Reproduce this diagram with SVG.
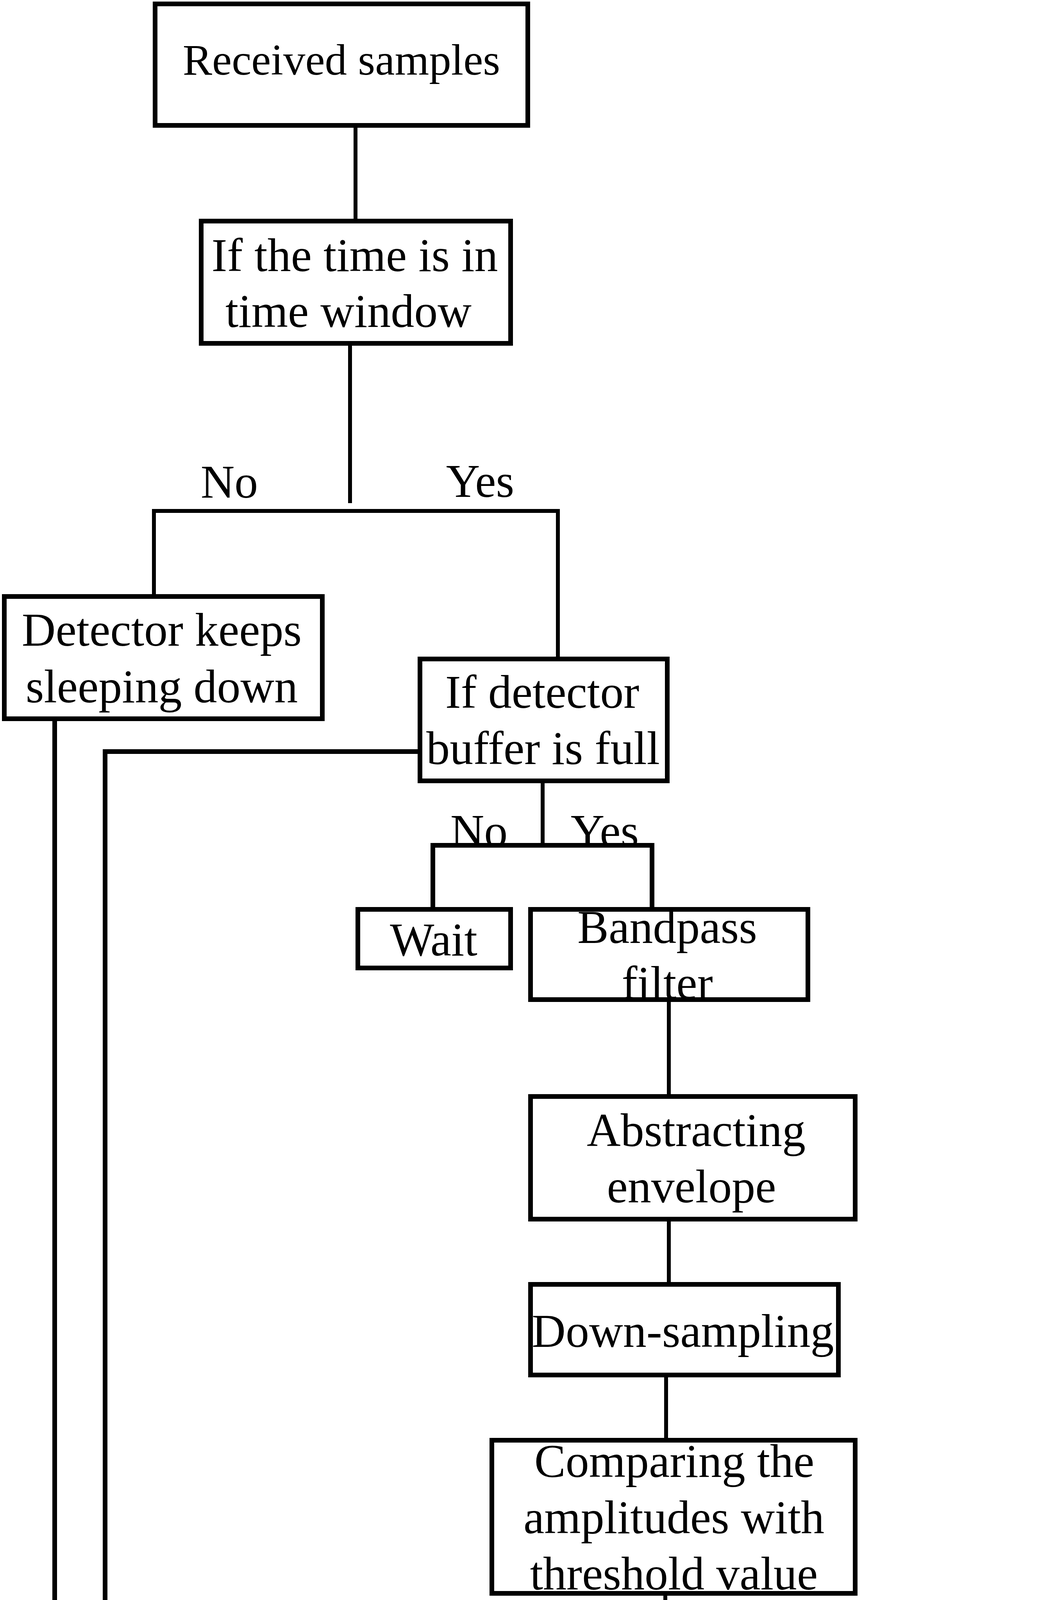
<svg xmlns="http://www.w3.org/2000/svg" width="2680" height="7464" viewBox="0 0 2680 7464">
<style>
.box{fill:#fff;stroke:#000;stroke-width:12}
.ln{fill:none;stroke:#000;stroke-width:10;stroke-linejoin:miter;stroke-linecap:square}
.lt{fill:none;stroke:#000;stroke-width:12;stroke-linejoin:miter;stroke-linecap:square}
text{font-family:"Liberation Serif","Times New Roman",serif;font-size:120px;fill:#000;text-anchor:middle}
</style>
<rect width="2680" height="7464" fill="#fff"/>
<g id="connectors">
<path class="ln" d="M910,321V566"/>
<path class="ln" d="M896,879V1283"/>
<path class="ln" d="M394,1521V1308H1428V1681"/>
<path class="ln" d="M1389,1999V2164"/>
<path class="lt" d="M1108,2328V2164H1669V2328"/>
<path class="ln" d="M1712,2559V2807"/>
<path class="ln" d="M1712,3121V3288"/>
<path class="ln" d="M1705,3520V3687"/>
<path class="ln" d="M1703,4079V4328"/>
<path class="ln" d="M1703,4560V4810"/>
<path class="ln" d="M1701,5279V5444"/>
<path class="lt" d="M1348,5687V5444H2372V5687"/>
<path class="ln" d="M1309,6000V6244"/>
<path class="lt" d="M951,6487V6244H1590V6407"/>
<path class="lt" d="M1075,1924H269V7044H797L793,6761"/>
<path class="lt" d="M140,1840V7444H2468V6000"/>
</g>
<g id="n1"><rect class="box" x="397" y="10" width="954" height="311"/><text x="874" y="191" style="font-size:113px">Received samples</text></g>
<g id="n2"><rect class="box" x="515" y="566" width="792" height="313"/><text x="908" y="694">If the time is in</text><text x="892" y="837">time window</text></g>
<g id="lbl1"><text x="587" y="1274">No</text><text x="1229" y="1272">Yes</text></g>
<g id="n3"><rect class="box" x="11" y="1527" width="814" height="313"/><text x="414" y="1653">Detector keeps</text><text x="414" y="1798">sleeping down</text></g>
<g id="n4"><rect class="box" x="1075" y="1687" width="633" height="312"/><text x="1388" y="1812">If detector</text><text x="1390" y="1956">buffer is full</text></g>
<g id="lbl2"><text x="1226" y="2168">No</text><text x="1548" y="2168">Yes</text></g>
<g id="n5"><rect class="box" x="916" y="2328" width="391" height="150"/><text x="1110" y="2446">Wait</text></g>
<g id="n6"><rect class="box" x="1358" y="2328" width="710" height="231"/><text x="1708" y="2414">Bandpass</text><text x="1708" y="2557">filter</text></g>
<g id="n7"><rect class="box" x="1358" y="2807" width="831" height="314"/><text x="1782" y="2934">Abstracting</text><text x="1770" y="3078">envelope</text></g>
<g id="n8"><rect class="box" x="1358" y="3288" width="788" height="232"/><text x="1748" y="3448">Down-sampling</text></g>
<g id="n9"><rect class="box" x="1259" y="3687" width="930" height="392"/><text x="1726" y="3781">Comparing the</text><text x="1725" y="3925">amplitudes with</text><text x="1725" y="4069">threshold value</text></g>
<g id="n10"><rect class="box" x="1319" y="4328" width="790" height="232"/><text x="1710" y="4487">Voting</text></g>
<g id="n11"><rect class="box" x="1195" y="4810" width="1073" height="469"/><text x="1722" y="4942">If the half of samples'</text><text x="1728" y="5084">amplitudes are higher</text><text x="1729" y="5227">than threshold</text></g>
<g id="lbl3"><text x="1410" y="5432">No</text><text x="2029" y="5407">Yes</text></g>
<g id="n12"><rect class="box" x="892" y="5687" width="920" height="313"/><text x="1348" y="5813">If the time is in</text><text x="1350" y="5956">time window end</text></g>
<g id="n13"><rect class="box" x="1877" y="5687" width="794" height="313"/><text x="2270" y="5813">The symbol 1 is</text><text x="2270" y="5956">transmitted</text></g>
<g id="lbl4"><text x="1106" y="6248">No</text><text x="1468" y="6248">Yes</text></g>
<g id="n14"><rect class="box" x="397" y="6487" width="791" height="274"/><text x="792" y="6598">Empty the</text><text x="793" y="6742">detector buffer</text></g>
<g id="n15"><rect class="box" x="1279" y="6407" width="910" height="315"/><text x="1728" y="6533">The symbol 0 is</text><text x="1729" y="6676">thansmitted</text></g>
</svg>
